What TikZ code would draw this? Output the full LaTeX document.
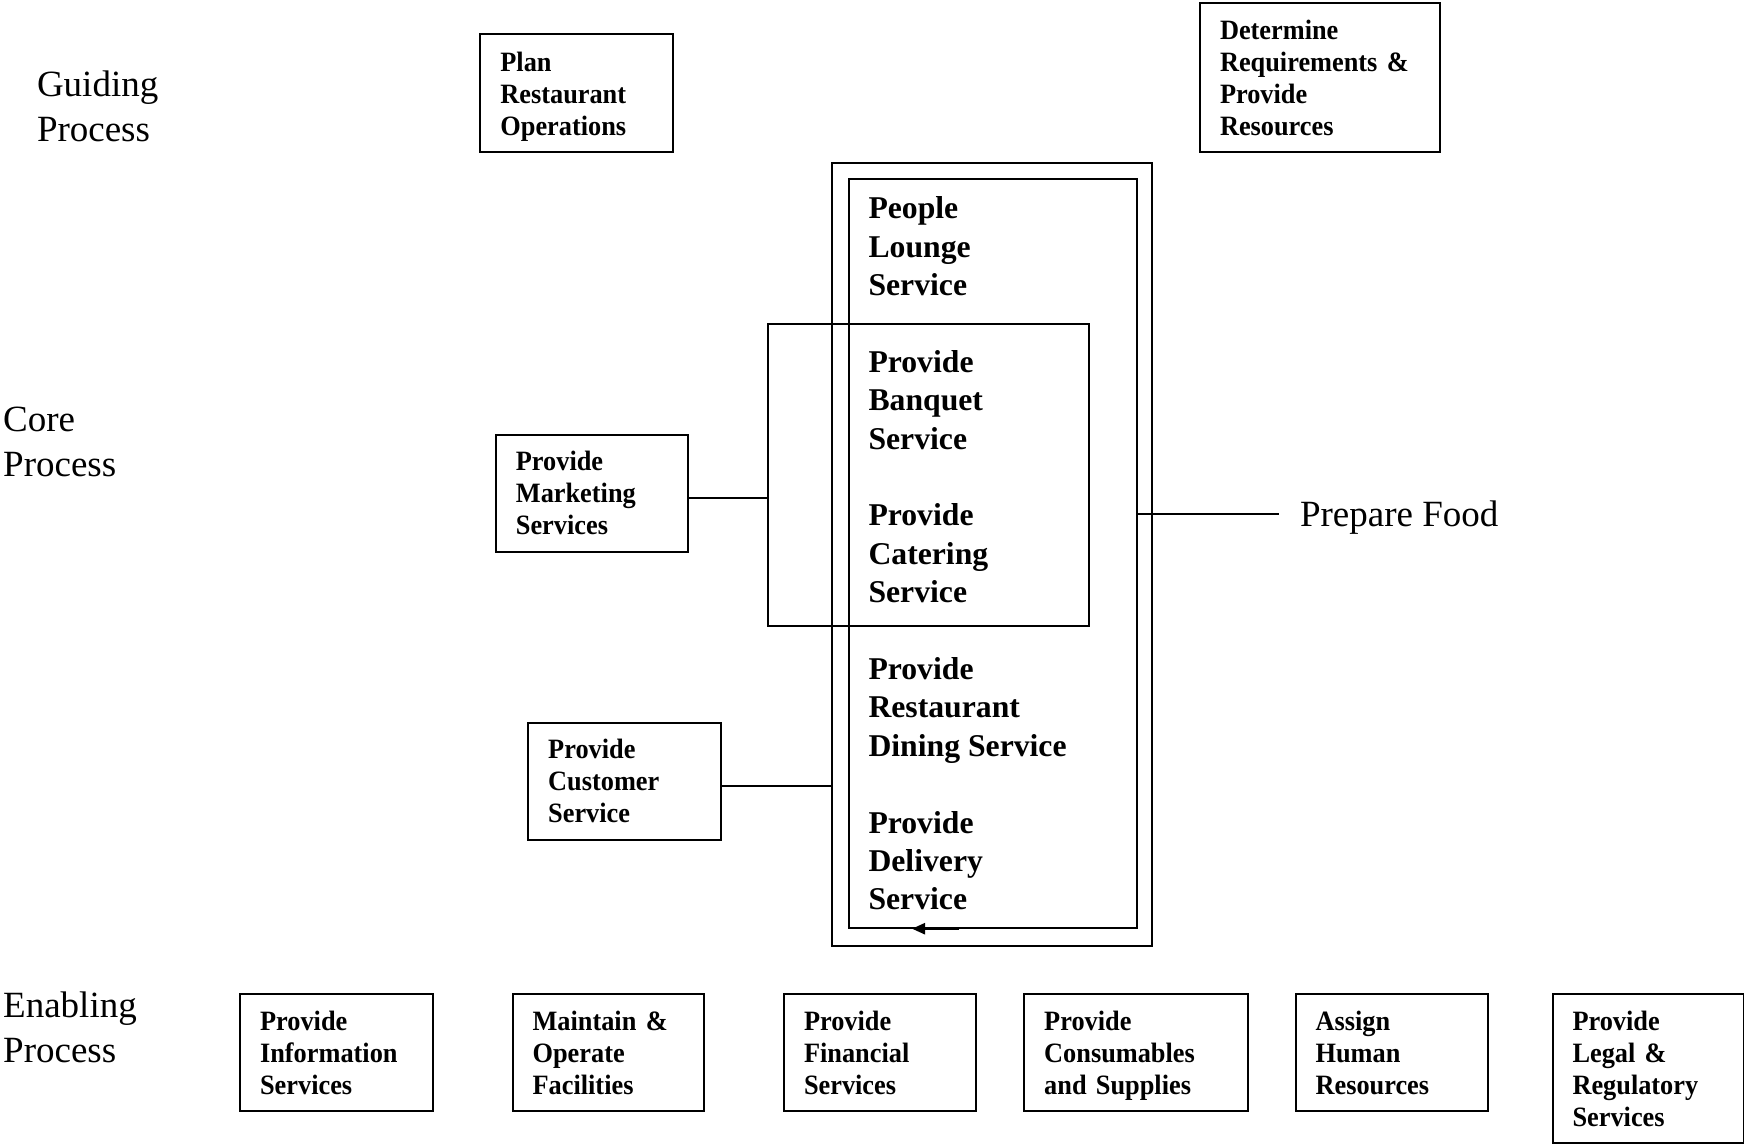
\documentclass[tikz,border=0pt]{standalone}
\usepackage{fontspec}
\setmainfont{Liberation Serif}
\newfontfamily\boxfont[FakeStretch=0.94]{Liberation Serif}
\usetikzlibrary{arrows.meta}
% last line set without descender depth, so all boxes centre alike
\newcommand\nodepth[1]{\raisebox{0pt}[\height][0pt]{#1}}
\begin{document}
\begin{tikzpicture}[x=1pt, y=-1pt, line width=2pt,
  proc/.style={draw, anchor=north west, inner xsep=20pt, inner ysep=0pt,
    align=left, font=\boxfont\bfseries\fontsize{28}{32}\selectfont},
  frame/.style={draw, anchor=north west, inner sep=0pt},
  stage/.style={anchor=base west, inner sep=0pt, align=left,
    font=\fontsize{37}{44.5}\selectfont},
  svc/.style={anchor=base west, inner sep=0pt, align=left,
    font=\bfseries\fontsize{31.7}{38.4}\selectfont},
]
\useasboundingbox (0,0) rectangle (1744,1145);

% process levels (positioned by the baseline of the last line)
\node[stage] (guiding) at (36,141) {Guiding\\Process};
\node[stage] (core) at (2.2,476) {Core\\Process};
\node[stage] (enabling) at (2.2,1062) {Enabling\\Process};

% guiding processes
\node[proc, text width=152.4pt, minimum height=117.9pt] (plan) at (479.4,33.4)
  {Plan\\Restaurant\\\nodepth{Operations}};
\node[proc, text width=200.2pt, minimum height=149.1pt] (determine) at (1199,2.2)
  {Determine\\Requirements \&\\Provide\\Resources};

% core service frames
\node[frame, minimum width=320.3pt, minimum height=783pt] (outer) at (830.8,162.4) {};
\node[frame, minimum width=288.1pt, minimum height=748.5pt] (inner) at (847.5,178) {};
\node[frame, minimum width=320.3pt, minimum height=302.6pt] (mid) at (767.4,322.5) {};

% core services
\node[svc] (lounge) at (867.5,295.4) {People\\Lounge\\Service};
\node[svc] (banquet) at (867.5,449) {Provide\\Banquet\\Service};
\node[svc] (catering) at (867.5,602.6) {Provide\\Catering\\Service};
\node[svc] (dining) at (867.5,756.2) {Provide\\Restaurant\\Dining Service};
\node[svc] (delivery) at (867.5,909.8) {Provide\\Delivery\\Service};

% supporting core processes
\node[proc, text width=152.4pt, minimum height=116.7pt] (mkt) at (494.9,433.8)
  {Provide\\Marketing\\Services};
\node[proc, text width=152.4pt, minimum height=116.8pt] (cust) at (527.2,721.8)
  {Provide\\Customer\\Service};
\node[stage] (food) at (1299,526) {Prepare Food};

% connectors
\coordinate (mk) at ([yshift=-5pt]mkt.east);
\draw (mk) -- (mk -| mid.west);
\coordinate (cs) at ([yshift=-5pt]cust.east);
\draw (cs) -- (cs -| outer.west);
\coordinate (pfl) at (1279,513.8);
\draw (pfl -| inner.east) -- (pfl);
\coordinate (arrTail) at (958.7,928.7);
\coordinate (arrTip) at (912,928.7);
\draw[-{Triangle[length=13pt,width=11pt]}, line width=2.5pt] (arrTail) -- (arrTip);

% enabling processes
\node[proc, text width=152.4pt, minimum height=116.8pt] (info) at (239.1,993.2)
  {Provide\\Information\\Services};
\node[proc, text width=151.3pt, minimum height=116.8pt] (facil) at (511.6,993.2)
  {Maintain \&\\Operate\\Facilities};
\node[proc, text width=152.4pt, minimum height=116.8pt] (fin) at (783,993.2)
  {Provide\\Financial\\Services};
\node[proc, text width=183.6pt, minimum height=116.8pt] (supp) at (1023.2,993.2)
  {Provide\\Consumables\\\nodepth{and Supplies}};
\node[proc, text width=152.4pt, minimum height=116.8pt] (hr) at (1294.6,993.2)
  {Assign\\Human\\Resources};
\node[proc, text width=151.3pt, minimum height=149pt] (legal) at (1551.5,993.2)
  {Provide\\Legal \&\\Regulatory\\Services};
\end{tikzpicture}
\end{document}
